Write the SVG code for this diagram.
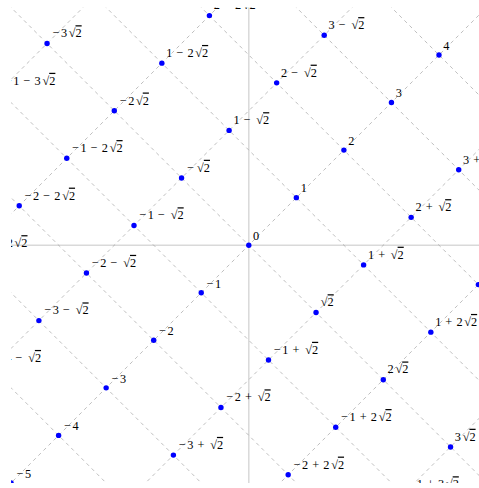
<svg xmlns="http://www.w3.org/2000/svg" width="479" height="488" viewBox="0 0 479 488">
<style>
.ax{stroke:#d9d9d9;stroke-width:1.5;fill:none}
.dl{stroke:#a4a4a4;stroke-width:0.7;stroke-dasharray:3.6 3.6;fill:none}
.pt{fill:#0000ff}
.lb{font-family:"Liberation Serif","Times New Roman",serif;font-size:12.3px;fill:#000}
.ov{text-decoration:overline}
</style>
<defs>
<clipPath id="clip"><rect x="11.05" y="7.45" width="475.5" height="475.5"/></clipPath>
</defs>
<rect width="479" height="488" fill="#fff"/>
<g clip-path="url(#clip)">
<g id="axes">
<line class="ax" x1="0" y1="245.2" x2="490" y2="245.2"/>
<line class="ax" x1="248.8" y1="0" x2="248.8" y2="490"/>
</g>
<g id="connectors">
<line class="dl" x1="-471.9" y1="0" x2="18.1" y2="490"/>
<line class="dl" x1="-376.8" y1="0" x2="113.2" y2="490"/>
<line class="dl" x1="-281.7" y1="0" x2="208.3" y2="490"/>
<line class="dl" x1="-186.6" y1="0" x2="303.4" y2="490"/>
<line class="dl" x1="-91.5" y1="0" x2="398.5" y2="490"/>
<line class="dl" x1="3.6" y1="0" x2="493.6" y2="490"/>
<line class="dl" x1="98.7" y1="0" x2="588.7" y2="490"/>
<line class="dl" x1="193.8" y1="0" x2="683.8" y2="490"/>
<line class="dl" x1="288.9" y1="0" x2="778.9" y2="490"/>
<line class="dl" x1="384" y1="0" x2="874" y2="490"/>
<line class="dl" x1="90.53" y1="0" x2="-399.47" y2="490"/>
<line class="dl" x1="225.02" y1="0" x2="-264.98" y2="490"/>
<line class="dl" x1="359.51" y1="0" x2="-130.49" y2="490"/>
<line class="dl" x1="494" y1="0" x2="4" y2="490"/>
<line class="dl" x1="628.49" y1="0" x2="138.49" y2="490"/>
<line class="dl" x1="762.98" y1="0" x2="272.98" y2="490"/>
<line class="dl" x1="897.47" y1="0" x2="407.47" y2="490"/>
</g>
<g id="n0_m3"><circle class="pt" cx="47.06" cy="43.46" r="2.7"/><text class="lb" x="51.36" y="37.26" dx="1.3 1.3 1.7 0">−3√<tspan class="ov">2</tspan></text></g>
<g id="nm1_m3"><circle class="pt" cx="-0.49" cy="91.01" r="2.7"/><text class="lb" x="3.81" y="84.81" dx="1.3 1.3 0 1 0 1 1.7 0">−1 − 3√<tspan class="ov">2</tspan></text></g>
<g id="n0_m2"><circle class="pt" cx="114.31" cy="110.71" r="2.7"/><text class="lb" x="118.61" y="104.51" dx="1.3 1.3 1.7 0">−2√<tspan class="ov">2</tspan></text></g>
<g id="n1_m2"><circle class="pt" cx="161.86" cy="63.16" r="2.7"/><text class="lb" x="166.16" y="56.96" dx="0 0 1 0 1 1.7 0">1 − 2√<tspan class="ov">2</tspan></text></g>
<g id="n2_m2"><circle class="pt" cx="209.41" cy="15.61" r="2.7"/><text class="lb" x="213.71" y="9.41" dx="0 0 1 0 1 1.7 0">2 − 2√<tspan class="ov">2</tspan></text></g>
<g id="nm1_m2"><circle class="pt" cx="66.76" cy="158.26" r="2.7"/><text class="lb" x="71.06" y="152.06" dx="1.3 1.3 0 1 0 1 1.7 0">−1 − 2√<tspan class="ov">2</tspan></text></g>
<g id="nm2_m2"><circle class="pt" cx="19.21" cy="205.81" r="2.7"/><text class="lb" x="23.51" y="199.61" dx="1.3 1.3 0 1 0 1 1.7 0">−2 − 2√<tspan class="ov">2</tspan></text></g>
<g id="nm3_m2"><circle class="pt" cx="-28.34" cy="253.36" r="2.7"/><text class="lb" x="-24.04" y="247.16" dx="1.3 1.3 0 1 0 1 1.7 0">−3 − 2√<tspan class="ov">2</tspan></text></g>
<g id="n0_m1"><circle class="pt" cx="181.55" cy="177.95" r="2.7"/><text class="lb" x="185.85" y="171.75" dx="1.3 3 0">−√<tspan class="ov">2</tspan></text></g>
<g id="n1_m1"><circle class="pt" cx="229.1" cy="130.4" r="2.7"/><text class="lb" x="233.4" y="124.2" dx="0 0 1 0 2.7 0">1 − √<tspan class="ov">2</tspan></text></g>
<g id="n2_m1"><circle class="pt" cx="276.65" cy="82.85" r="2.7"/><text class="lb" x="280.95" y="76.65" dx="0 0 1 0 2.7 0">2 − √<tspan class="ov">2</tspan></text></g>
<g id="n3_m1"><circle class="pt" cx="324.2" cy="35.3" r="2.7"/><text class="lb" x="328.5" y="29.1" dx="0 0 1 0 2.7 0">3 − √<tspan class="ov">2</tspan></text></g>
<g id="nm1_m1"><circle class="pt" cx="134" cy="225.5" r="2.7"/><text class="lb" x="138.3" y="219.3" dx="1.3 1.3 0 1 0 2.7 0">−1 − √<tspan class="ov">2</tspan></text></g>
<g id="nm2_m1"><circle class="pt" cx="86.45" cy="273.05" r="2.7"/><text class="lb" x="90.75" y="266.85" dx="1.3 1.3 0 1 0 2.7 0">−2 − √<tspan class="ov">2</tspan></text></g>
<g id="nm3_m1"><circle class="pt" cx="38.9" cy="320.6" r="2.7"/><text class="lb" x="43.2" y="314.4" dx="1.3 1.3 0 1 0 2.7 0">−3 − √<tspan class="ov">2</tspan></text></g>
<g id="nm4_m1"><circle class="pt" cx="-8.65" cy="368.15" r="2.7"/><text class="lb" x="-4.35" y="361.95" dx="1.3 1.3 0 1 0 2.7 0">−4 − √<tspan class="ov">2</tspan></text></g>
<g id="n0_0"><circle class="pt" cx="248.8" cy="245.2" r="2.7"/><text class="lb" x="253.1" y="240">0</text></g>
<g id="n1_0"><circle class="pt" cx="296.35" cy="197.65" r="2.7"/><text class="lb" x="300.65" y="192.45">1</text></g>
<g id="n2_0"><circle class="pt" cx="343.9" cy="150.1" r="2.7"/><text class="lb" x="348.2" y="144.9">2</text></g>
<g id="n3_0"><circle class="pt" cx="391.45" cy="102.55" r="2.7"/><text class="lb" x="395.75" y="97.35">3</text></g>
<g id="n4_0"><circle class="pt" cx="439" cy="55" r="2.7"/><text class="lb" x="443.3" y="49.8">4</text></g>
<g id="nm1_0"><circle class="pt" cx="201.25" cy="292.75" r="2.7"/><text class="lb" x="205.55" y="287.55" dx="1.3 1.3">−1</text></g>
<g id="nm2_0"><circle class="pt" cx="153.7" cy="340.3" r="2.7"/><text class="lb" x="158" y="335.1" dx="1.3 1.3">−2</text></g>
<g id="nm3_0"><circle class="pt" cx="106.15" cy="387.85" r="2.7"/><text class="lb" x="110.45" y="382.65" dx="1.3 1.3">−3</text></g>
<g id="nm4_0"><circle class="pt" cx="58.6" cy="435.4" r="2.7"/><text class="lb" x="62.9" y="430.2" dx="1.3 1.3">−4</text></g>
<g id="nm5_0"><circle class="pt" cx="11.05" cy="482.95" r="2.7"/><text class="lb" x="15.35" y="477.75" dx="1.3 1.3">−5</text></g>
<g id="n0_1"><circle class="pt" cx="316.05" cy="312.45" r="2.7"/><text class="lb" x="320.35" y="306.25" dx="0.5 0">√<tspan class="ov">2</tspan></text></g>
<g id="n1_1"><circle class="pt" cx="363.6" cy="264.9" r="2.7"/><text class="lb" x="367.9" y="258.7" dx="0 0 1 0 2.7 0">1 + √<tspan class="ov">2</tspan></text></g>
<g id="n2_1"><circle class="pt" cx="411.15" cy="217.35" r="2.7"/><text class="lb" x="415.45" y="211.15" dx="0 0 1 0 2.7 0">2 + √<tspan class="ov">2</tspan></text></g>
<g id="n3_1"><circle class="pt" cx="458.7" cy="169.8" r="2.7"/><text class="lb" x="463" y="163.6" dx="0 0 1 0 2.7 0">3 + √<tspan class="ov">2</tspan></text></g>
<g id="nm1_1"><circle class="pt" cx="268.5" cy="360" r="2.7"/><text class="lb" x="272.8" y="353.8" dx="1.3 1.3 0 1 0 2.7 0">−1 + √<tspan class="ov">2</tspan></text></g>
<g id="nm2_1"><circle class="pt" cx="220.95" cy="407.55" r="2.7"/><text class="lb" x="225.25" y="401.35" dx="1.3 1.3 0 1 0 2.7 0">−2 + √<tspan class="ov">2</tspan></text></g>
<g id="nm3_1"><circle class="pt" cx="173.4" cy="455.1" r="2.7"/><text class="lb" x="177.7" y="448.9" dx="1.3 1.3 0 1 0 2.7 0">−3 + √<tspan class="ov">2</tspan></text></g>
<g id="n0_2"><circle class="pt" cx="383.29" cy="379.69" r="2.7"/><text class="lb" x="387.59" y="373.49" dx="0 1.7 0">2√<tspan class="ov">2</tspan></text></g>
<g id="n1_2"><circle class="pt" cx="430.84" cy="332.14" r="2.7"/><text class="lb" x="435.14" y="325.94" dx="0 0 1 0 1 1.7 0">1 + 2√<tspan class="ov">2</tspan></text></g>
<g id="n2_2"><circle class="pt" cx="478.39" cy="284.59" r="2.7"/></g>
<g id="nm1_2"><circle class="pt" cx="335.74" cy="427.24" r="2.7"/><text class="lb" x="340.04" y="421.04" dx="1.3 1.3 0 1 0 1 1.7 0">−1 + 2√<tspan class="ov">2</tspan></text></g>
<g id="nm2_2"><circle class="pt" cx="288.19" cy="474.79" r="2.7"/><text class="lb" x="292.49" y="468.59" dx="1.3 1.3 0 1 0 1 1.7 0">−2 + 2√<tspan class="ov">2</tspan></text></g>
<g id="n0_3"><circle class="pt" cx="450.54" cy="446.94" r="2.7"/><text class="lb" x="454.84" y="440.74" dx="0 1.7 0">3√<tspan class="ov">2</tspan></text></g>
<g id="nm1_3"><circle class="pt" cx="402.99" cy="494.49" r="2.7"/><text class="lb" x="407.29" y="488.29" dx="1.3 1.3 0 1 0 1 1.7 0">−1 + 3√<tspan class="ov">2</tspan></text></g>
</g>
</svg>
